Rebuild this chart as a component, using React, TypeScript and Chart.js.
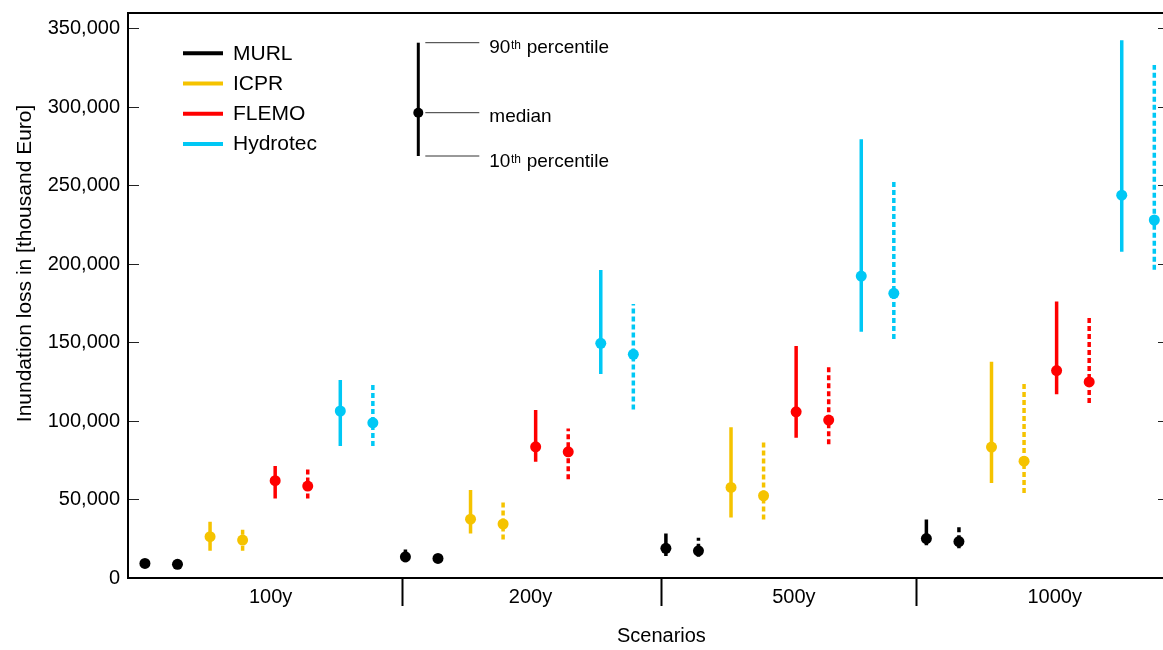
import React, { useEffect, useRef } from 'react';
import { Chart, registerables } from 'chart.js';

Chart.register(...registerables);

// ---------- data ----------
const scenarios = ['100y', '200y', '500y', '1000y'];
const models = ['MURL', 'ICPR', 'FLEMO', 'Hydrotec'];
const modelColors = ['#000000', '#f5c300', '#ff0000', '#00c8f5'];
const yTickValues = [0, 50000, 100000, 150000, 200000, 250000, 300000, 350000];

// MURL
const murlMedian = [9300, 13500, 18900, 25100];
const murlP10 = [7500, 10100, 14000, 20800];
const murlP90 = [11000, 18200, 28400, 37300];
const murlMedianDashed = [8700, 12500, 17300, 23200];
const murlP10Dashed = [7000, 9500, 13500, 19000];
const murlP90Dashed = [10500, 14500, 25600, 33700];
// ICPR
const icprMedian = [26300, 37500, 57700, 83400];
const icprP10 = [17300, 28400, 38600, 60500];
const icprP90 = [35800, 56000, 96000, 137800];
const icprMedianDashed = [24200, 34400, 52400, 74400];
const icprP10Dashed = [17300, 24600, 37300, 54200];
const icprP90Dashed = [32600, 48600, 86400, 125600];
// FLEMO
const flemoMedian = [62000, 83600, 105900, 132200];
const flemoP10 = [50700, 74100, 89400, 117100];
const flemoP90 = [71300, 107000, 147800, 176100];
const flemoMedianDashed = [58600, 80400, 100600, 124900];
const flemoP10Dashed = [50700, 63000, 85300, 111500];
const flemoP90Dashed = [70500, 95300, 135700, 167100];
// Hydrotec
const hydroMedian = [106400, 149500, 192400, 243900];
const hydroP10 = [84100, 130000, 156900, 207800];
const hydroP90 = [126100, 196200, 279500, 342700];
const hydroMedianDashed = [98900, 142500, 181400, 228100];
const hydroP10Dashed = [84100, 107400, 152300, 196400];
const hydroP90Dashed = [122900, 174600, 254000, 326800];

// category axis tick positions (in slot units)
const separatorTicks = [7.915, 15.87, 23.71];
const scenarioLabelTicks = [3.86, 11.84, 19.93, 27.94];

const FONT = "'Liberation Sans', Arial, Helvetica, sans-serif";

const series = [
  { model: 0, dashed: false, median: murlMedian, p10: murlP10, p90: murlP90 },
  { model: 0, dashed: true, median: murlMedianDashed, p10: murlP10Dashed, p90: murlP90Dashed },
  { model: 1, dashed: false, median: icprMedian, p10: icprP10, p90: icprP90 },
  { model: 1, dashed: true, median: icprMedianDashed, p10: icprP10Dashed, p90: icprP90Dashed },
  { model: 2, dashed: false, median: flemoMedian, p10: flemoP10, p90: flemoP90 },
  { model: 2, dashed: true, median: flemoMedianDashed, p10: flemoP10Dashed, p90: flemoP90Dashed },
  { model: 3, dashed: false, median: hydroMedian, p10: hydroP10, p90: hydroP90 },
  { model: 3, dashed: true, median: hydroMedianDashed, p10: hydroP10Dashed, p90: hydroP90Dashed },
];

const CANVAS_W = 1175;
const CANVAS_H = 650;

const overlayPlugin = {
  id: 'overlay',
  afterDraw(chart: any) {
    const ctx = chart.ctx;
    const { left, top } = chart.chartArea;
    ctx.save();
    // legend
    models.forEach((m, i) => {
      const y = top + 40.3 + i * 30.2;
      ctx.beginPath();
      ctx.strokeStyle = modelColors[i];
      ctx.lineWidth = 4;
      ctx.moveTo(left + 55, y);
      ctx.lineTo(left + 95, y);
      ctx.stroke();
      ctx.fillStyle = '#000';
      ctx.font = `21px ${FONT}`;
      ctx.textBaseline = 'middle';
      ctx.textAlign = 'left';
      ctx.fillText(m, left + 105, y + 0.5);
    });
    // percentile key
    const kx = left + 290.3;
    const yTop = top + 29.7;
    const yMed = top + 99.7;
    const yBot = top + 143;
    ctx.beginPath();
    ctx.strokeStyle = '#000';
    ctx.lineWidth = 3;
    ctx.moveTo(kx, yTop);
    ctx.lineTo(kx, yBot);
    ctx.stroke();
    ctx.beginPath();
    ctx.fillStyle = '#000';
    ctx.arc(kx, yMed, 5, 0, Math.PI * 2);
    ctx.fill();
    ctx.strokeStyle = '#333';
    ctx.lineWidth = 1;
    [yTop, yMed, yBot].forEach((yy) => {
      ctx.beginPath();
      ctx.moveTo(kx + 7, yy);
      ctx.lineTo(kx + 61, yy);
      ctx.stroke();
    });
    ctx.textBaseline = 'alphabetic';
    const tx = kx + 71;
    const drawOrd = (num: string, rest: string, base: number) => {
      ctx.font = `19px ${FONT}`;
      ctx.fillText(num, tx, base);
      const w1 = ctx.measureText(num).width;
      ctx.font = `12px ${FONT}`;
      ctx.fillText('th', tx + w1 + 0.5, base - 4);
      const w2 = ctx.measureText('th').width;
      ctx.font = `19px ${FONT}`;
      ctx.fillText(rest, tx + w1 + w2 + 1, base);
    };
    drawOrd('90', ' percentile', yTop + 10);
    ctx.font = `19px ${FONT}`;
    ctx.fillText('median', tx, yMed + 9);
    drawOrd('10', ' percentile', yBot + 11);
    ctx.restore();
  },
};

export default function App() {
  const ref = useRef<HTMLCanvasElement | null>(null);

  useEffect(() => {
    if (!ref.current) return;
    const datasets: any[] = [];
    series.forEach((s) => {
      const color = modelColors[s.model];
      const offset = s.model * 2 + (s.dashed ? 1 : 0);
      const whiskers: any[] = [];
      scenarios.forEach((_, c) => {
        const x = c * 8 + offset;
        whiskers.push({ x, y: s.p10[c] }, { x, y: s.p90[c] }, { x, y: null });
      });
      datasets.push({
        type: 'line',
        label: models[s.model] + (s.dashed ? ' (b)' : ''),
        data: whiskers,
        borderColor: color,
        backgroundColor: color,
        borderWidth: 3.5,
        borderDash: s.dashed ? [5, 3] : [],
        borderCapStyle: 'butt',
        pointRadius: 0,
        spanGaps: false,
        fill: false,
        tension: 0,
        order: 2,
      });
      datasets.push({
        type: 'scatter',
        label: models[s.model] + ' median',
        data: scenarios.map((_, c) => ({ x: c * 8 + offset, y: s.median[c] })),
        backgroundColor: color,
        borderColor: color,
        borderWidth: 0,
        pointRadius: 5.5,
        order: 1,
      });
    });

    const chartAreaWidth = 1167 - 128;

    const chart = new Chart(ref.current, {
      type: 'scatter',
      data: { datasets },
      plugins: [overlayPlugin],
      options: {
        responsive: false,
        animation: false,
        devicePixelRatio: 1,
        events: [],
        layout: { padding: { left: 0, top: 13, right: 8, bottom: 0 } },
        plugins: {
          legend: { display: false },
          tooltip: { enabled: false },
        },
        scales: {
          x: {
            type: 'linear',
            position: 'bottom',
            min: -0.52,
            max: 31.39,
            afterBuildTicks: (s: any) => {
              s.ticks = [...scenarioLabelTicks, ...separatorTicks]
                .sort((a, b) => a - b)
                .map((v) => ({ value: v }));
            },
            afterFit: (s: any) => {
              s.height = 72;
              s.paddingLeft = 0;
              s.paddingRight = 0;
            },
            ticks: {
              autoSkip: false,
              maxRotation: 0,
              minRotation: 0,
              padding: -21,
              color: '#000',
              font: { family: FONT, size: 20 },
              callback: (v: any) => {
                const i = scenarioLabelTicks.indexOf(Number(v));
                return i >= 0 ? scenarios[i] : '';
              },
            },
            grid: {
              display: true,
              drawOnChartArea: false,
              drawTicks: true,
              tickLength: 28,
              tickWidth: 2,
              tickColor: (ctx: any) =>
                ctx.tick && separatorTicks.includes(ctx.tick.value) ? '#000' : 'rgba(0,0,0,0)',
            },
            border: { display: true, color: '#000', width: 2 },
            title: {
              display: true,
              text: '     Scenarios',
              color: '#000',
              font: { family: FONT, size: 20 },
              padding: { top: 0, bottom: 2 },
            },
          },
          xTop: {
            type: 'linear',
            position: 'top',
            min: 0,
            max: 1,
            ticks: { display: false },
            grid: { display: false, drawTicks: false },
            border: { display: true, color: '#000', width: 2 },
            afterFit: (s: any) => {
              s.height = 0;
              s.paddingLeft = 0;
              s.paddingRight = 0;
            },
          },
          y: {
            type: 'linear',
            position: 'left',
            min: 0,
            max: 360000,
            afterBuildTicks: (s: any) => {
              s.ticks = yTickValues.map((v) => ({ value: v }));
            },
            afterFit: (s: any) => {
              s.width = 128;
              s.paddingTop = 0;
              s.paddingBottom = 0;
            },
            ticks: {
              padding: 8,
              color: '#000',
              font: { family: FONT, size: 20 },
              callback: (v: any) => Number(v).toLocaleString('en-US'),
            },
            grid: {
              display: true,
              drawOnChartArea: true,
              drawTicks: false,
              color: '#222',
              lineWidth: 1,
            },
            border: {
              display: true,
              color: '#000',
              width: 2,
              dash: [10, chartAreaWidth - 20, 10, 4000],
            },
            title: {
              display: true,
              text: '           Inundation loss in [thousand Euro]',
              color: '#000',
              font: { family: FONT, size: 21 },
              padding: { top: 13, bottom: 0 },
            },
          },
        },
      } as any,
    });
    return () => chart.destroy();
  }, []);

  return (
    <div
      style={{
        position: 'absolute',
        left: 0,
        top: 0,
        width: 1163,
        height: 650,
        overflow: 'hidden',
        background: '#fff',
      }}
    >
      <canvas
        ref={ref}
        width={CANVAS_W}
        height={CANVAS_H}
        style={{ display: 'block', width: CANVAS_W, height: CANVAS_H }}
      />
    </div>
  );
}
